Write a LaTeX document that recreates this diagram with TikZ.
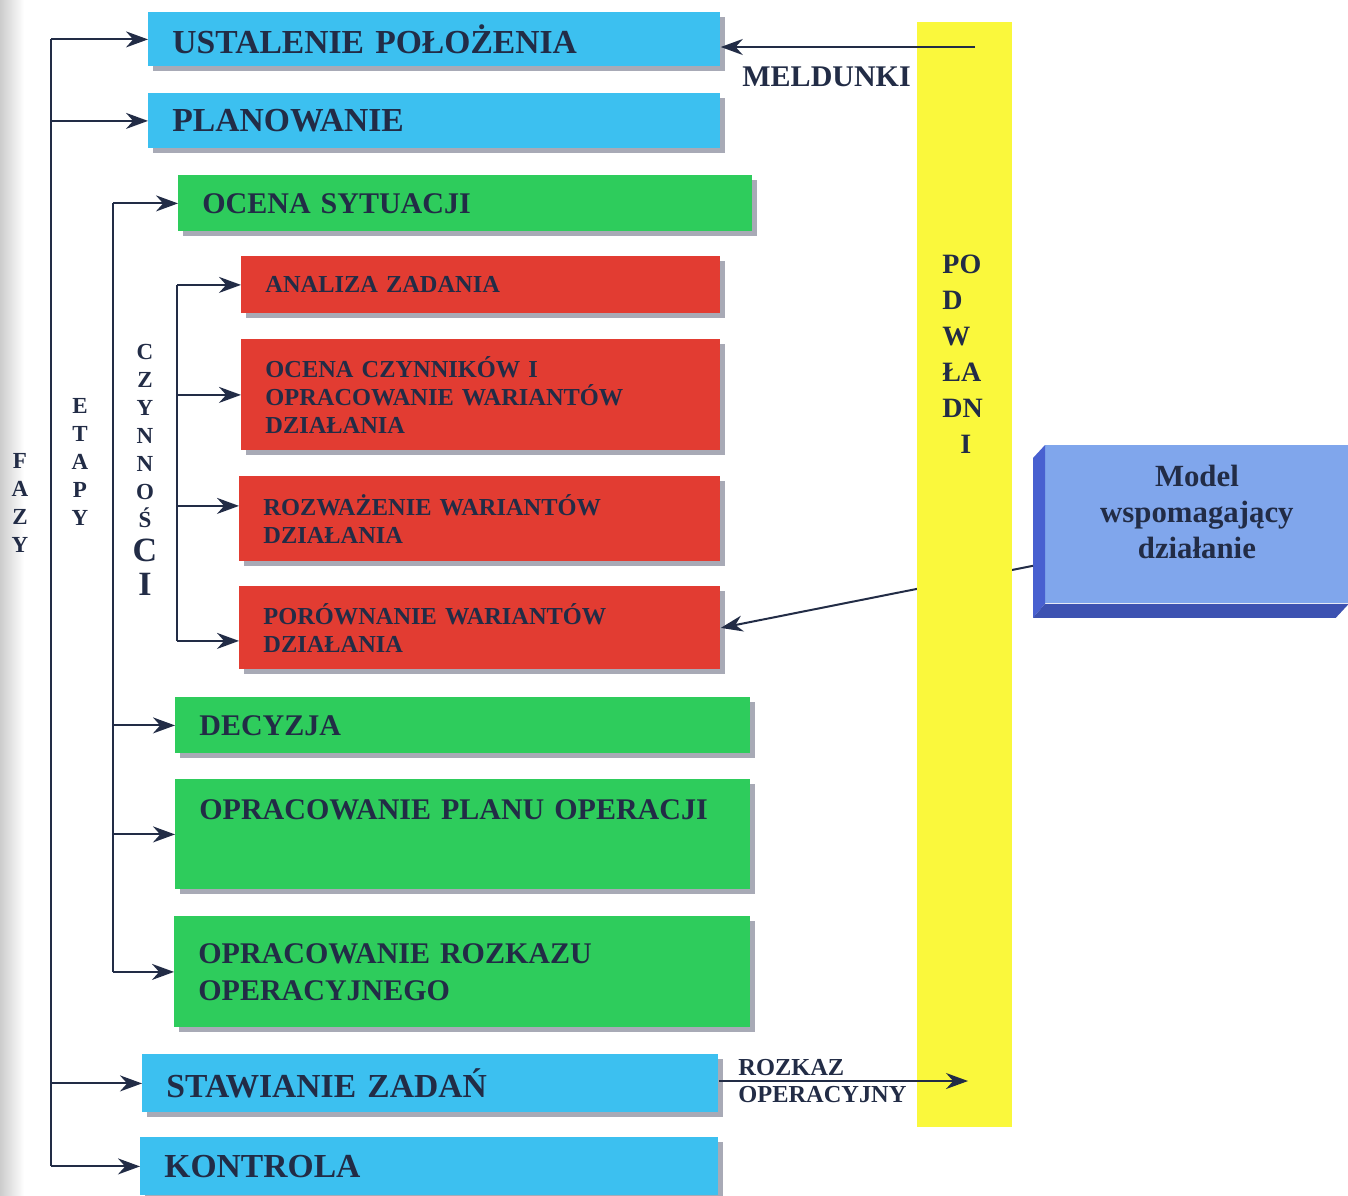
\documentclass[tikz,border=0pt]{standalone}
\usepackage{fontspec}
\setmainfont{Liberation Serif}
\usetikzlibrary{arrows.meta,calc,shadows}
\definecolor{ink}{RGB}{34,44,70}
\definecolor{cyanfill}{RGB}{60,192,240}
\definecolor{greenfill}{RGB}{46,204,92}
\definecolor{redfill}{RGB}{226,60,50}
\definecolor{yellowfill}{RGB}{250,248,60}
\definecolor{modelfront}{RGB}{128,166,236}
\definecolor{modelside}{RGB}{72,96,208}
\definecolor{shadowgray}{RGB}{168,170,182}

\tikzset{
  box/.style={anchor=north west, inner xsep=12pt, inner ysep=0pt, align=left,
    text=ink, font=\bfseries,
    drop shadow={shadow xshift=2.5pt, shadow yshift=-2.5pt, fill=shadowgray, opacity=1}},
  phasetxt/.style={font=\bfseries\fontsize{16.8}{19}\selectfont},
  stagetxt/.style={font=\bfseries\fontsize{15}{18.5}\selectfont},
  smalltxt/.style={font=\bfseries\fontsize{12.2}{14}\selectfont},
  phase/.style={box, phasetxt, fill=cyanfill},
  stage/.style={box, stagetxt, fill=greenfill},
  activity/.style={box, smalltxt, fill=redfill},
  conn/.style={draw=ink, line width=1pt, -{Stealth[length=11pt,width=8pt]}},
  trunk/.style={draw=ink, line width=1pt},
  vlabel/.style={align=center, text=ink, font=\bfseries\fontsize{11.5}{14}\selectfont},
}

\begin{document}
\begin{tikzpicture}[x=0.5pt,y=-0.5pt]
\useasboundingbox (0,0) rectangle (1348,1195);
\fill[white] (0,0) rectangle (1348,1195);
\shade[left color=gray!40, right color=white] (0,0) rectangle (24,1195);

% phases (cyan)
\node[phase, text width=262pt, minimum height=27pt] (ust) at (148,12) {USTALENIE POŁOŻENIA};
\node[phase, text width=262pt, minimum height=27.5pt] (plan) at (148,93) {PLANOWANIE};
% stages (green)
\node[stage, text width=263pt, minimum height=28pt] (ocena) at (178,175) {OCENA SYTUACJI};
% activities (red)
\node[activity, text width=215.5pt, minimum height=28.5pt] (analiza) at (241,256) {ANALIZA ZADANIA};
\node[activity, text width=215.5pt, minimum height=55.5pt] (czynniki) at (241,339) {OCENA CZYNNIKÓW I\\OPRACOWANIE WARIANTÓW\\DZIAŁANIA};
\node[activity, text width=216.5pt, minimum height=42.5pt] (rozwaz) at (239,476) {ROZWAŻENIE WARIANTÓW\\DZIAŁANIA};
\node[activity, text width=216.5pt, minimum height=41.5pt] (porown) at (239,586) {PORÓWNANIE WARIANTÓW\\DZIAŁANIA};
\node[stage, text width=263.5pt, minimum height=28pt] (decyzja) at (175,697) {DECYZJA};
\node[stage, text width=263.5pt, minimum height=55pt] (planop) at (175,779) {OPRACOWANIE PLANU OPERACJI\\[6pt]\mbox{}};
\node[stage, text width=264pt, minimum height=55.5pt] (rozkaz) at (174,916) {OPRACOWANIE ROZKAZU\\OPERACYJNEGO};
\node[phase, text width=264pt, minimum height=29pt] (stawianie) at (142,1054) {STAWIANIE ZADAŃ};
\node[phase, text width=265pt, minimum height=29pt] (kontrola) at (140,1137) {KONTROLA};

% decision support model (box with bevelled faces)
\node[anchor=north west, fill=modelfront, minimum width=151.5pt, minimum height=79pt,
      inner sep=0pt, align=center, text=ink, font=\bfseries\fontsize{15.4}{18}\selectfont]
      (model) at (1045,445) {Model\\wspomagający\\działanie\\[-5pt]\mbox{}};
\fill[modelside] (model.north west) -- ++(-12,13) -- ($(model.south west)+(-12,14)$) -- (model.south west) -- cycle;
\fill[modelside!85!black] (model.south west) -- ++(-12,14) -- ($(model.south east)+(-13,14)$) -- (model.south east) -- cycle;
\draw[conn] ($(model.south west)+(-12,-38)$) -- (porown.east);

% subordinates bar
\node[anchor=north west, fill=yellowfill, minimum width=47.5pt, minimum height=552.5pt, inner sep=0pt] (pod) at (917,22) {};
\node[anchor=north west, align=left, text=ink, font=\bfseries\fontsize{14}{18}\selectfont, inner sep=0pt]
      (podtxt) at (942,255) {PO\\D\\W\\ŁA\\DN\\\hspace*{9pt}I};

% reports and operation order
\coordinate (meld) at (975,47);
\draw[conn] (meld) -- (ust.east |- meld);
\node[anchor=west, text=ink, font=\bfseries\fontsize{15}{17}\selectfont, inner sep=0pt] (meldlbl) at (742,77) {MELDUNKI};
\coordinate (rozk) at (968,1081);
\draw[conn] (stawianie.east |- rozk) -- (rozk);
\node[anchor=west, align=left, text=ink, font=\bfseries\fontsize{12.2}{13.5}\selectfont, inner sep=0pt] (rozklbl) at (738,1081) {ROZKAZ\\OPERACYJNY};

% phases trunk
\coordinate (fz) at (51,0);
\draw[trunk] (ust.west -| fz) -- (kontrola.west -| fz);
\foreach \n in {ust,plan,stawianie,kontrola} \draw[conn] (\n.west -| fz) -- (\n.west);
% stages trunk
\coordinate (et) at (113,0);
\draw[trunk] (ocena.west -| et) -- (rozkaz.west -| et);
\foreach \n in {ocena,decyzja,planop,rozkaz} \draw[conn] (\n.west -| et) -- (\n.west);
% activities trunk
\coordinate (cz) at (177,0);
\coordinate (rz) at ($(rozwaz.west)+(0,-13)$);
\coordinate (pr) at ($(porown.west)+(0,13)$);
\draw[trunk] (analiza.west -| cz) -- (pr -| cz);
\draw[conn] (analiza.west -| cz) -- (analiza.west);
\draw[conn] (czynniki.west -| cz) -- (czynniki.west);
\draw[conn] (rz -| cz) -- (rz);
\draw[conn] (pr -| cz) -- (pr);

% vertical labels
\node[vlabel] (fazy) at (20,503) {F\\A\\Z\\Y};
\node[vlabel] (etapy) at (80,462) {E\\T\\A\\P\\Y};
\node[vlabel, anchor=north] (czynn) at (145,337) {C\\Z\\Y\\N\\N\\O\\Ś\\[3pt]{\fontsize{17}{17}\selectfont C}\\[3pt]{\fontsize{17}{17}\selectfont I}};
\end{tikzpicture}
\end{document}
